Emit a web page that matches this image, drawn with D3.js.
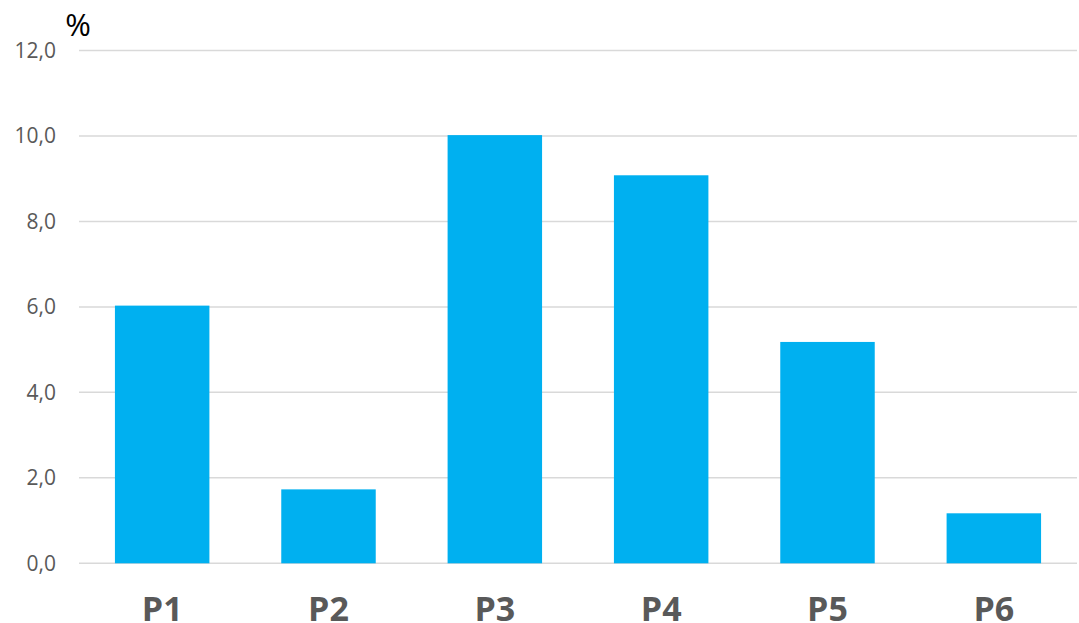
<!DOCTYPE html>
<html><head><meta charset="utf-8">
<script src="https://cdn.jsdelivr.net/npm/d3@7"></script>
<style>body{margin:0;background:#fff}svg{display:block}</style>
</head><body>
<svg id="c" width="1079" height="623"></svg>
<script>
const categories = ["P1","P2","P3","P4","P5","P6"];
const values = [6.03, 1.73, 10.02, 9.08, 5.18, 1.17];
const yTicks = [0,2,4,6,8,10,12];
const unitLabel = "%";

const svg = d3.select("#c");
const m = {left:79, right:2, top:50.5, bottom:60};
const W = 1079, H = 623;
const x = d3.scaleBand().domain(categories).range([m.left, W - m.right])
  .paddingInner(0.432).paddingOuter(0.216);
const y = d3.scaleLinear().domain([0,12]).range([563.3, 50.5]);

const font = "'Open Sans', 'Noto Sans', sans-serif";

// gridlines
svg.append("g").selectAll("line").data(yTicks).join("line")
  .attr("x1", m.left).attr("x2", W - m.right)
  .attr("y1", d=>y(d)).attr("y2", d=>y(d))
  .attr("stroke", "#d9d9d9").attr("stroke-width", 1.5);

// bars
svg.append("g").selectAll("rect").data(values).join("rect")
  .attr("x", (d,i)=>x(categories[i]))
  .attr("width", x.bandwidth())
  .attr("y", d=>y(d))
  .attr("height", d=>y(0)-y(d))
  .attr("fill", "#00B0F0");

// y axis labels
const yAxis = d3.axisLeft(y).tickValues(yTicks).tickSize(0).tickPadding(0)
  .tickFormat(d=>d3.format(".1f")(d).replace(".", ","));
const ga = svg.append("g").attr("transform", "translate(56,0)").call(yAxis);
ga.select(".domain").remove();
ga.selectAll("text").attr("font-family", font).attr("font-size", 21).attr("fill", "#595959");

// x axis labels
const xAxis = d3.axisBottom(x).tickSize(0).tickPadding(0);
const gx = svg.append("g").attr("transform", "translate(0,0)").call(xAxis);
gx.select(".domain").remove();
gx.selectAll("text").attr("y", 620.5).attr("dy", null)
  .attr("font-family", font).attr("font-size", 34).attr("font-weight", "bold").attr("fill", "#595959");

// unit label
svg.append("text").attr("x", 78).attr("y", 36).attr("text-anchor", "middle")
  .attr("font-family", font).attr("font-size", 31).attr("fill", "#000").text(unitLabel);
</script>
</body></html>
